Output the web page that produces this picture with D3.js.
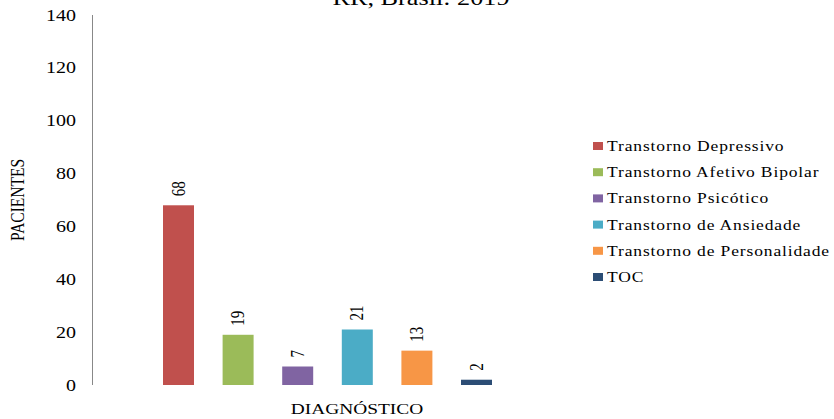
<!DOCTYPE html>
<html lang="en">
<head>
  <meta charset="UTF-8">
  <title>Diagnóstico</title>
  <style>
    body { margin: 0; background: #fff; }
  </style>
</head>
<body>
<svg id="svg" width="834" height="419" font-family="'Liberation Serif', 'Times New Roman', serif"></svg>
<script src="https://d3js.org/d3.v7.min.js"></script>
<script>
  // data
  const categories = ['Transtorno Depressivo', 'Transtorno Afetivo Bipolar', 'Transtorno Psicótico',
    'Transtorno de Ansiedade', 'Transtorno de Personalidade', 'TOC']
  const values = [68, 19, 7, 21, 13, 2]
  const colors = ['#C0504D', '#9BBB59', '#8064A2', '#4BACC6', '#F79646', '#2C4D75']
  const yTicks = [0, 20, 40, 60, 80, 100, 120, 140]

  // the source picture is stretched sideways, so text gets a scaleX
  const sx = 1.25

  const svg = d3.select('#svg')

  const yScale = d3.scaleLinear()
    .domain([0, 140])
    .range([385, 15])
  const xScale = d3.scaleBand()
    .domain(categories)
    .range([148.7, 506.3])
    .paddingInner(0.48)
    .paddingOuter(0.24)

  // y axis line
  svg.append('line')
    .attr('x1', 92.5).attr('x2', 92.5)
    .attr('y1', yScale(140)).attr('y2', yScale(0))
    .attr('stroke', '#888')

  // tick labels
  svg.selectAll('.ytick')
    .data(yTicks)
    .enter()
    .append('text')
    .attr('class', 'ytick')
    .attr('transform', d => `translate(76,${yScale(d) + 5.5}) scale(${sx},1)`)
    .attr('text-anchor', 'end')
    .style('font-size', '16px')
    .text(d => d)

  // bars
  svg.selectAll('.bar')
    .data(values)
    .enter()
    .append('rect')
    .attr('class', 'bar')
    .attr('x', (d, i) => xScale(categories[i]))
    .attr('width', xScale.bandwidth())
    .attr('y', d => yScale(d))
    .attr('height', d => yScale(0) - yScale(d))
    .attr('fill', (d, i) => colors[i])

  // value labels, rotated
  svg.selectAll('.vlabel')
    .data(values)
    .enter()
    .append('text')
    .attr('class', 'vlabel')
    .attr('transform', (d, i) => {
      const x = xScale(categories[i]) + xScale.bandwidth() / 2 + 6
      const y = yScale(d) - 9
      return `translate(${x},${y}) scale(${sx},1) rotate(-90)`
    })
    .style('font-size', '15px')
    .text(d => d)

  // title (only the last line fits)
  svg.append('text')
    .attr('transform', `translate(421,5) scale(${sx},1)`)
    .attr('text-anchor', 'middle')
    .style('font-size', '21px')
    .text('RR, Brasil: 2019')

  // axis titles
  svg.append('text')
    .attr('transform', `translate(24,200) scale(${sx},1) rotate(-90)`)
    .attr('text-anchor', 'middle')
    .style('font-size', '15.5px')
    .text('PACIENTES')

  svg.append('text')
    .attr('transform', `translate(357,414) scale(${sx},1)`)
    .attr('text-anchor', 'middle')
    .style('font-size', '15.5px')
    .text('DIAGNÓSTICO')

  // legend
  const legend = svg.selectAll('.legend')
    .data(categories)
    .enter()
    .append('g')
    .attr('class', 'legend')
    .attr('transform', (d, i) => `translate(593,${146 + i * 26.2})`)
  legend.append('rect')
    .attr('x', 0).attr('y', -4)
    .attr('width', 10).attr('height', 8)
    .attr('fill', (d, i) => colors[i])
  legend.append('text')
    .attr('transform', `translate(14,5) scale(${sx},1)`)
    .style('font-size', '14px')
    .style('letter-spacing', '0.7px')
    .text(d => d)
</script>
</body>
</html>
